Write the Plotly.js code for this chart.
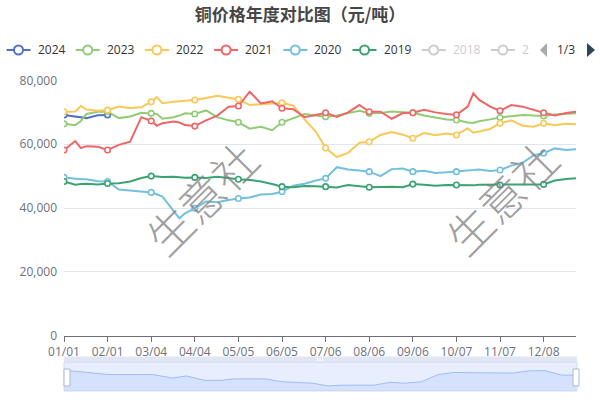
<!DOCTYPE html>
<html><head><meta charset="utf-8">
<script src="https://cdn.plot.ly/plotly-3.0.1.min.js"></script>
<style>html,body{margin:0;padding:0;background:#fff}</style>
</head><body><div id="chart" style="width:600px;height:400px"></div>
<script>
const titleText = '铜价格年度对比图（元/吨）';
const tickDays = [0,31,62,93,124,155,186,217,248,279,310,341];
const tickLabels = ['01/01','02/01','03/04','04/04','05/05','06/05','07/06','08/06','09/06','10/07','11/07','12/08'];
const days = [0,8,12,16,24,31,39,47,55,62,66,70,78,82,86,93,101,109,117,124,132,140,148,155,163,171,179,186,194,202,210,217,225,233,241,248,256,264,272,279,287,291,295,303,310,318,326,334,341,349,357,364];

const y2024 = [69200,68700,68400,68200,69100,69200];
const y2023 = [66400,66000,67300,69500,70200,70200,68200,68700,69900,69700,69500,68000,68500,69000,69700,69500,70600,68500,67500,66900,64900,65500,64400,66900,68200,69500,69000,68600,69000,69700,70500,69700,69800,70300,70200,69900,69000,68300,67800,67600,66800,66700,67200,67800,68400,68800,69200,69000,68900,69300,69500,69700];
const y2022 = [70200,70300,72000,70900,70500,70700,71800,71400,71600,73300,74800,72900,73300,73400,73600,73900,74500,75200,74600,74100,72300,72600,72900,73000,72100,67800,64000,58800,56000,57300,60500,60800,62900,63800,63000,61900,63500,62800,63400,62900,65000,63600,64000,64800,66600,67500,65800,65500,66600,66000,66400,66300];
const y2021 = [58200,61000,58800,59400,59200,58200,59800,60800,68500,67300,65800,66600,67100,66800,66000,65700,67500,69000,71800,72000,76500,72800,73500,71300,71000,68500,69200,69900,68600,70000,72300,70200,70200,68000,69800,69900,70800,70000,69500,69200,71800,76000,74000,71800,70500,72300,71800,70700,69900,69000,69800,70200];
const y2020 = [49600,49100,49000,49000,48400,48300,45800,45500,45100,44900,44300,43600,39000,36800,38300,39900,42000,41800,42500,43000,43300,44200,44400,45100,47000,47600,48600,49300,52800,52100,51800,51400,50000,52200,52400,51400,51700,51000,51200,51400,51800,51900,52100,51600,51900,53300,54200,56600,57200,58700,58200,58400];
const y2019 = [48300,47300,47500,47600,47400,47700,47800,48300,49400,50000,49900,49700,49800,49700,49500,49600,49400,49800,49300,49000,48800,48300,47500,46700,46500,46900,46800,46700,46400,47200,46800,46500,46600,46700,46500,47500,47300,47000,47200,47200,47000,47100,47300,47300,47200,47300,47400,47300,47400,48600,49100,49300];

const seriesNames = ['2024','2023','2022','2021','2020','2019'];
const seriesValues = [y2024,y2023,y2022,y2021,y2020,y2019];
const seriesColors = ['#5470c6','#91cc75','#fac858','#ee6666','#73c0de','#3ba272'];
const legendNames = ['2024','2023','2022','2021','2020','2019','2018','2'];
const legendActive = [true,true,true,true,true,true,false,false];

const shadowDays = [0,20,32,63,77,87,100,112,121,143,155,177,188,196,220,232,242,254,266,277,319,331,342,354,364];
const shadowVals = [72,62,57,57,45,52,37,37,42,42,32,27,17,20,20,30,27,32,57,64,62,70,70,55,55];

const watermark = '生意社';

// pixel -> paper helpers (plot area: x 64..576, y 80..392)
const L=64, R=576, T=80, B=392;
const px = x => (x-L)/(R-L);
const py = y => (B-y)/(B-T);

const traces = [];
seriesValues.forEach((vals,i)=>{
  traces.push({
    type:'scatter', mode:'lines', name:seriesNames[i], x: days.slice(0, vals.length), y: vals,
    line:{color:seriesColors[i], width:2}, hoverinfo:'skip', showlegend:false
  });
});
seriesValues.forEach((vals,i)=>{
  const xs=[], ys=[];
  days.slice(0, vals.length).forEach((d,k)=>{ if(tickDays.includes(d)){ xs.push(d); ys.push(vals[k]); } });
  traces.push({
    type:'scatter', mode:'markers', x: xs, y: ys,
    marker:{symbol:'circle', size:5.5, color:'#fff', line:{color:seriesColors[i], width:1.6}},
    hoverinfo:'skip', showlegend:false
  });
});
// data shadow of slider
traces.push({
  type:'scatter', mode:'lines', x: shadowDays, y: shadowVals, xaxis:'x2', yaxis:'y2',
  fill:'tozeroy', fillcolor:'rgba(143,176,247,0.2)', line:{color:'#8fb0f7', width:0.8},
  hoverinfo:'skip', showlegend:false
});

const shapes = [];
const annotations = [];
// slider body
shapes.push({type:'rect', xref:'paper', yref:'paper', x0:px(64), x1:px(577), y0:py(391), y1:py(362.5),
  fillcolor:'rgba(135,175,274,0.2)', line:{color:'#d2dbee', width:1}, layer:'below'});
shapes.push({type:'rect', xref:'paper', yref:'paper', x0:px(64), x1:px(577), y0:py(362.5), y1:py(356.5),
  fillcolor:'#e0e6f3', line:{width:0}});
[317.5,320,322.5].forEach(x=>shapes.push({type:'line', xref:'paper', yref:'paper', x0:px(x), x1:px(x), y0:py(361), y1:py(358), line:{color:'#fff', width:1}}));
[67,576].forEach(x=>shapes.push({type:'rect', xref:'paper', yref:'paper', x0:px(x-3), x1:px(x+3), y0:py(386), y1:py(369),
  fillcolor:'#fff', line:{color:'#acb8d1', width:1}}));

// legend
legendNames.forEach((n,i)=>{
  const x0 = 6.5 + i*69.2;
  const c = legendActive[i] ? seriesColors[i] : '#ccc';
  shapes.push({type:'line', xref:'paper', yref:'paper', x0:px(x0), x1:px(x0+24), y0:py(50), y1:py(50), line:{color:c, width:2}});
  shapes.push({type:'circle', xref:'paper', yref:'paper', x0:px(x0+7.5), x1:px(x0+16.5), y0:py(54.5), y1:py(45.5), fillcolor:'#fff', line:{color:c, width:2}});
  annotations.push({xref:'paper', yref:'paper', x:px(x0+29), y:py(50), xanchor:'left', yanchor:'middle', showarrow:false,
    text:n, font:{size:12, color: legendActive[i] ? '#333' : '#ccc', family:'Open Sans, Noto Sans CJK SC, sans-serif'}});
});
// pager
shapes.push({type:'path', xref:'paper', yref:'paper', path:`M ${px(547)} ${py(43)} L ${px(540)} ${py(50)} L ${px(547)} ${py(57)} Z`, fillcolor:'#aaa', line:{width:0}});
shapes.push({type:'path', xref:'paper', yref:'paper', path:`M ${px(587)} ${py(43)} L ${px(595)} ${py(50)} L ${px(587)} ${py(57)} Z`, fillcolor:'#2f4554', line:{width:0}});
annotations.push({xref:'paper', yref:'paper', x:px(566), y:py(50), xanchor:'center', yanchor:'middle', showarrow:false,
  text:'1/3', font:{size:12, color:'#333', family:'Open Sans, sans-serif'}});
// watermarks
[200,500].forEach(x=>annotations.push({xref:'paper', yref:'paper', x:px(x), y:py(197), xanchor:'center', yanchor:'middle',
  showarrow:false, text:watermark, textangle:-45,
  font:{size:45, color:'rgba(128,128,128,0.75)', family:'Noto Sans CJK SC', weight:300}}));

const layout = {
  width:600, height:400, margin:{l:L, r:600-R, t:T, b:400-B},
  paper_bgcolor:'#fff', plot_bgcolor:'rgba(0,0,0,0)',
  font:{family:'Open Sans, Noto Sans CJK SC, sans-serif', size:12, color:'#6e7079'},
  title:{text:titleText, x:0.5, xref:'container', xanchor:'center', y:1-15/400, yref:'container', yanchor:'middle',
    font:{size:17, color:'#464646', weight:'bold', family:'Noto Sans CJK SC, sans-serif'}},
  showlegend:false,
  xaxis:{domain:[0,1], anchor:'y', range:[0,364], tickmode:'array', tickvals:tickDays, ticktext:tickLabels,
    ticks:'outside', ticklen:5, tickcolor:'#6e7079', showline:true, linecolor:'#6e7079', linewidth:1,
    showgrid:false, zeroline:false, tickfont:{size:12, color:'#6e7079'}, fixedrange:true},
  yaxis:{domain:[py(335.5), py(80.5)], range:[0,80000], tickmode:'array', tickvals:[0,20000,40000,60000,80000],
    tickformat:',', showgrid:true, gridcolor:'#e0e6f1', zeroline:false, showline:false, ticks:'',
    ticklabelstandoff:6, tickfont:{size:12, color:'#6e7079'}, fixedrange:true},
  xaxis2:{domain:[px(64), px(577)], anchor:'y2', range:[0,364], visible:false, fixedrange:true},
  yaxis2:{domain:[py(391), py(365)], anchor:'x2', range:[0,90], visible:false, fixedrange:true},
  shapes, annotations
};
Plotly.newPlot('chart', traces, layout, {displayModeBar:false, staticPlot:true});
</script></body></html>
